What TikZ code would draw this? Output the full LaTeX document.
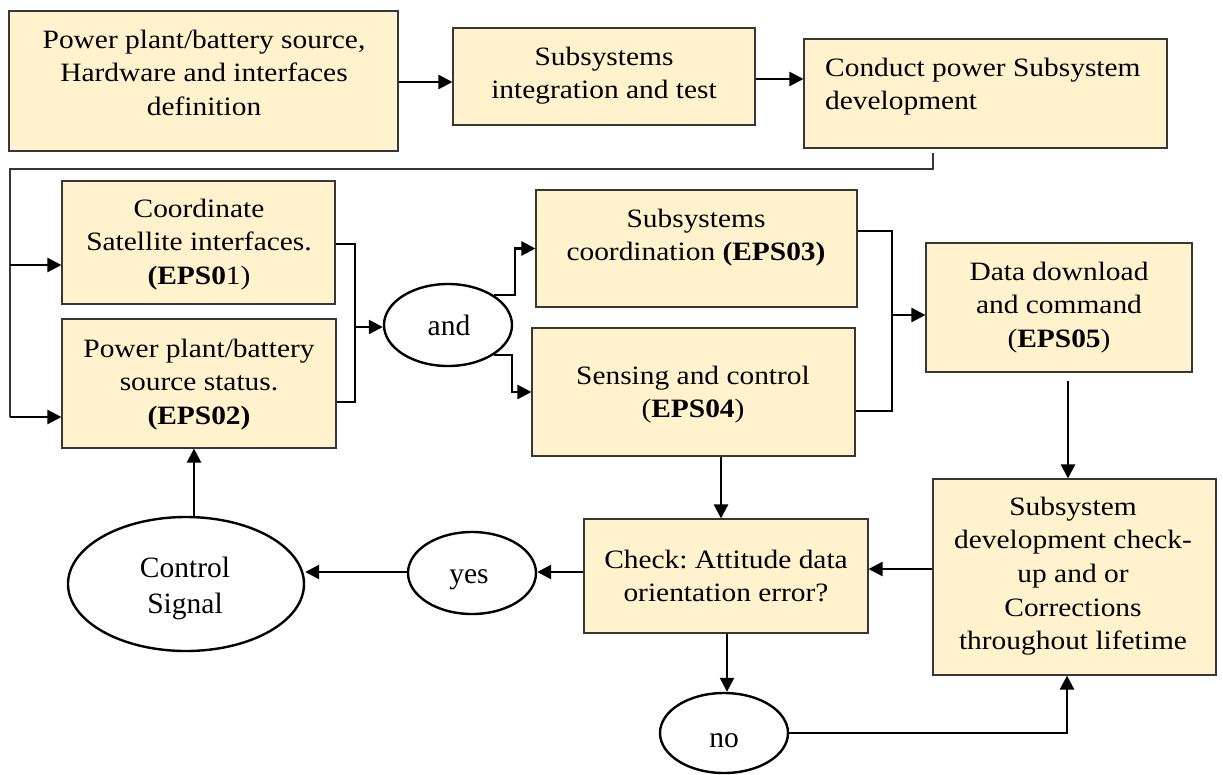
\documentclass[tikz,border=0pt]{standalone}
\usepackage{fontspec}
\setmainfont{Liberation Serif}
\newfontfamily\boxfont{Liberation Serif}[FakeStretch=1.11]
\usetikzlibrary{arrows.meta,shapes.geometric}
\definecolor{boxfill}{RGB}{255,242,204}
\definecolor{boxline}{RGB}{55,55,55}
% centred / left-aligned stacks of lines, baseline on the first line
\newcommand\ctext[1]{\vtop{\halign{\hfil##\hfil\cr#1\crcr}}}
\newcommand\ltext[1]{\vtop{\halign{##\hfil\cr#1\crcr}}}
\frenchspacing
\begin{document}
\begin{tikzpicture}[x=1pt,y=-1pt,
  box/.style={draw=boxline, line width=1.1pt, fill=boxfill, inner sep=0pt},
  oval/.style={ellipse, draw=black, line width=2.4pt, fill=white, inner sep=0pt},
  txt/.style={inner sep=0pt, anchor=base, font=\boxfont\fontsize{26.5}{33.7}\selectfont},
  ovaltxt/.style={inner sep=0pt, anchor=base, font=\fontsize{29.5}{36.5}\selectfont},
  arr/.style={line width=2.4pt, -{Triangle[length=14pt,width=14pt]}},
  link/.style={line width=2.4pt},
  feedline/.style={line width=1.1pt, draw=boxline}]
\useasboundingbox (0,0) rectangle (1223,774);

% ---- boxes ----
\node[box, minimum width=389pt, minimum height=140pt] (defn) at (203.5,81) {};
\node[box, minimum width=302pt, minimum height=97pt] (integ) at (604,76.5) {};
\node[box, minimum width=363pt, minimum height=109pt] (cond) at (985.5,93.5) {};
\node[box, minimum width=273pt, minimum height=123pt] (e1) at (198.5,242.5) {};
\node[box, minimum width=274pt, minimum height=129pt] (e2) at (199,383.5) {};
\node[box, minimum width=321pt, minimum height=117pt] (e3) at (696.5,248.5) {};
\node[box, minimum width=323pt, minimum height=128pt] (e4) at (693.5,392) {};
\node[box, minimum width=266pt, minimum height=129pt] (e5) at (1059,307.5) {};
\node[box, minimum width=284pt, minimum height=114pt] (chk) at (726,576) {};
\node[box, minimum width=283pt, minimum height=196pt] (sd) at (1074.5,577) {};

% ---- ovals ----
\node[oval, minimum width=128pt, minimum height=82pt] (and) at (448,325) {};
\node[oval, minimum width=236pt, minimum height=134pt] (cs) at (186,584) {};
\node[oval, minimum width=128pt, minimum height=82pt] (yes) at (472,573) {};
\node[oval, minimum width=128pt, minimum height=80pt] (no) at (724,733) {};

% ---- texts ----
\node[txt] (defn-t) at (204,48) {\ctext{Power plant/battery source,\cr Hardware and interfaces\cr definition}};
\node[txt] (integ-t) at (604,65) {\ctext{Subsystems\cr integration and test}};
\node[txt, anchor=base west] (cond-t) at (825,76) {\ltext{Conduct power Subsystem\cr development}};
\node[txt] (e1-t) at (199,217) {\ctext{Coordinate\cr Satellite interfaces.\cr \textbf{(EPS0}1)}};
\node[txt] (e2-t) at (199,357) {\ctext{Power plant/battery\cr source status.\cr \textbf{(EPS02)}}};
\node[txt] (e3-t) at (696,227) {\ctext{Subsystems\cr coordination \textbf{(EPS03)}}};
\node[txt] (e4-t) at (693,384) {\ctext{Sensing and control\cr (\textbf{EPS04})}};
\node[txt] (e5-t) at (1059,280) {\ctext{Data download\cr and command\cr (\textbf{EPS05})}};
\node[txt] (chk-t) at (726,568) {\ctext{Check: Attitude data\cr orientation error?}};
\node[txt] (sd-t) at (1073,515) {\ctext{Subsystem\cr development check-\cr up and or\cr Corrections\cr throughout lifetime}};
\node[ovaltxt] (cs-t) at (185,577) {\ctext{Control\cr Signal}};
\node[ovaltxt] (and-t) at (449,335) {and};
\node[ovaltxt] (yes-t) at (469,583) {yes};
\node[ovaltxt] (no-t) at (724,747) {no};

% ---- top row ----
\draw[arr] (defn.east |- 0,82) -- (integ.west |- 0,82);
\draw[arr] (integ.east |- 0,79) -- (cond.west |- 0,79);

% ---- return line from the development box ----
\coordinate (fbTop) at (933,169);
\coordinate (fbCorner) at (10,169);
\coordinate (fb1) at (10,265);
\coordinate (fb2) at (10,417);
\draw[feedline] (cond.south -| fbTop) ++(0,4) |- (fbCorner) -- (fb2);
\draw[arr] (fb1) -- (e1.west |- fb1);
\draw[arr] (fb2) -- (e2.west |- fb2);

% ---- EPS01 / EPS02 into "and" ----
\coordinate (j1) at (355,327);
\draw[link] (e1.east |- 0,244) -| (j1) |- (e2.east |- 0,402);
\draw[arr] (j1) -- (and.west |- j1);

% ---- "and" to EPS03 / EPS04 ----
\coordinate (k1) at (515,294);
\coordinate (k2) at (512,356);
\draw[arr] (and.north east) -| (k1 |- e3.west) -- (e3.west);
\draw[arr] (and.south east) -| (k2 |- e4.west) -- (e4.west);

% ---- EPS03 / EPS04 into EPS05 ----
\coordinate (j2) at (892,315);
\draw[link] (e3.east |- 0,231) -| (j2) |- (e4.east |- 0,411);
\draw[arr] (j2) -- (e5.west |- j2);

% ---- lower loop ----
\coordinate (d1) at (1068,381);
\coordinate (d2) at (0,569);
\coordinate (d3) at (721,0);
\coordinate (d4) at (727,0);
\coordinate (d5) at (1067,0);
\coordinate (d6) at (0,572);
\coordinate (d7) at (194,0);
\draw[arr] (d1) -- (sd.north -| d1);
\draw[arr] (sd.west |- d2) -- (chk.east |- d2);
\draw[arr] (e4.south -| d3) -- (chk.north -| d3);
\draw[arr] (chk.south -| d4) -- (no.north -| d4);
\draw[arr] (no.east) -| (sd.south -| d5);
\draw[arr] (chk.west |- d6) -- (yes.east |- d6);
\draw[arr] (yes.west |- d6) -- (cs.east |- d6);
\draw[arr] (cs.north -| d7) -- (e2.south -| d7);
\end{tikzpicture}
\end{document}
